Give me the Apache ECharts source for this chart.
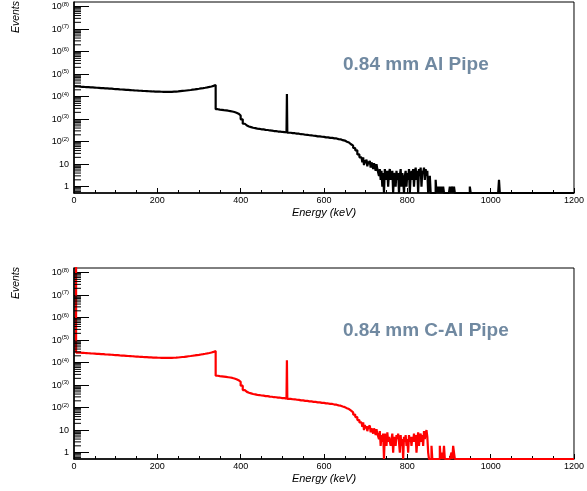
<!DOCTYPE html>
<html><head><meta charset="utf-8">
<script src="https://cdn.jsdelivr.net/npm/echarts@6/dist/echarts.min.js"></script>
<style>html,body{margin:0;padding:0;background:#fff}#c{width:587px;height:491px}</style>
</head><body><div id="c"></div>
<script>
// ---- axes ----
const xMin = 0, xMax = 1200;
const xTickStep = 200;
const Y_MIN = 0.52, Y_MAX = 1.6e8;
const panelLabels = ['0.84 mm Al Pipe', '0.84 mm C-Al Pipe'];
const xTitle = 'Energy (keV)';
const yTitle = 'Events';

// ---- binning of the data arrays (keV) ----
const lowStart = 0,    lowWidth = 5;    // 0 .. 510
const peakStart = 510, peakWidth = 1;   // 510 .. 515
const midStart = 515,  midWidth = 5;    // 515 .. 690
const tailStart = 690, tailWidth = 2;   // 690 .. 870
const sparseStart = 870, sparseWidth = 2; // 870 .. 1200 (zero except listed bins)

// ---- 0.84 mm Al Pipe (black) ----
const alLow = [
  28500, 28100, 27600, 27300, 26900, 26600, 26200, 25800, 25500, 25100,
  24700, 24400, 24000, 23700, 23300, 23000, 22700, 22400, 22000, 21700,
  21400, 21000, 20700, 20400, 20100, 19800, 19500, 19200, 18900, 18700,
  18400, 18200, 17900, 17700, 17500, 17300, 17100, 16900, 16800, 16600,
  16500, 16400, 16300, 16200, 16200, 16200, 16300, 16500, 16700, 17000,
  17400, 17800, 18200, 18700, 19200, 19700, 20300, 20900, 21600, 22300,
  23100, 23900, 24800, 25800, 26900, 28200, 30000, 33000, 2750, 2650,
  2580, 2500, 2430, 2360, 2280, 2180, 2060, 1920, 1740, 1450,
  980, 620, 520, 470, 440, 412, 398, 378, 370, 353,
  347, 333, 327, 313, 308, 295, 292, 280, 278, 268,
  266, 254
];
const alPeak = [250, 13000, 249, 248, 247];
const alMid = [
  248, 237, 236, 225, 224, 213, 212, 202, 201, 192,
  191, 182, 181, 172, 172, 164, 163, 155, 155, 147,
  147, 139, 138, 129, 126, 116, 111, 99, 91, 76,
  66, 52, 41, 27, 20
];
const alTail = [
  18, 12, 20, 9, 15, 11, 16, 8, 13, 10, 14, 7, 12, 9, 6, 11, 8, 5, 10, 6,
  7, 3, 6, 2, 5, 1, 4, 0, 6, 3, 2, 5, 1, 4, 6, 2, 3, 5, 0, 4,
  3, 1, 5, 2, 4, 0, 3, 6, 1, 4, 2, 0, 3, 5, 1, 4, 2, 6, 0, 3,
  5, 2, 6, 1, 4, 7, 2, 5, 0, 6, 3, 7, 1, 5, 4, 7, 2, 6, 3, 5,
  0, 0, 3, 0, 0, 0, 0, 0, 0, 2
];
const alSparse = [[874, 1], [878, 1], [882, 1], [886, 1], [902, 1], [908, 1], [912, 1], [950, 1], [1020, 2]];

// ---- 0.84 mm C-Al Pipe (red) ----
const cAlLow = [
  1e9, 27800, 27500, 27200, 26800, 26500, 26100, 25700, 25400, 25000,
  24600, 24300, 23900, 23600, 23200, 22900, 22600, 22300, 21900, 21600,
  21300, 20900, 20600, 20300, 20000, 19700, 19400, 19100, 18800, 18600,
  18300, 18100, 17800, 17600, 17400, 17200, 17000, 16800, 16700, 16500,
  16400, 16300, 16200, 16100, 16100, 16100, 16200, 16400, 16600, 16900,
  17300, 17700, 18100, 18600, 19100, 19600, 20200, 20800, 21500, 22200,
  23000, 23800, 24700, 25700, 26800, 28100, 29800, 32500, 2600, 2520,
  2450, 2380, 2310, 2240, 2170, 2080, 1970, 1830, 1650, 1400,
  940, 600, 500, 455, 428, 402, 389, 369, 362, 345,
  341, 325, 322, 307, 304, 290, 289, 276, 275, 263,
  263, 251
];
const cAlPeak = [247, 12800, 246, 245, 245];
const cAlMid = [
  246, 235, 234, 223, 222, 211, 210, 200, 199, 190,
  189, 180, 179, 171, 170, 162, 161, 154, 153, 146,
  145, 137, 135, 126, 122, 112, 105, 94, 86, 73,
  62, 49, 38, 28, 22
];
const cAlTail = [
  20, 14, 22, 10, 17, 12, 15, 9, 13, 11, 16, 8, 12, 10, 7, 12, 9, 6, 11, 7,
  8, 4, 9, 2, 6, 3, 7, 0, 7, 4, 2, 8, 3, 5, 6, 2, 4, 7, 1, 5,
  5, 2, 6, 4, 7, 3, 1, 6, 2, 4, 0, 5, 3, 6, 2, 4, 1, 6, 3, 5,
  2, 5, 3, 7, 3, 6, 1, 4, 8, 2, 5, 7, 3, 6, 2, 9, 4, 7, 10, 5,
  1, 0, 0, 0, 2, 0, 0, 0, 0, 0
];
const cAlSparse = [[878, 2], [884, 1], [888, 2], [906, 1], [910, 2], [912, 1]];

// ---- build ----
const FONT = '"Liberation Sans", Arial, Helvetica, sans-serif';
const panelColors = ['#000000', '#ff0000'];
const panels = [
  {top: 2, height: 191},
  {top: 268, height: 191}
];
const LEFT = 74, WIDTH = 504;

function buildPoints(low, peak, mid, tail, sparse) {
  const pts = [];
  const add = (start, width, counts) => counts.forEach((c, i) => pts.push([start + i * width, c]));
  add(lowStart, lowWidth, low);
  add(peakStart, peakWidth, peak);
  add(midStart, midWidth, mid);
  add(tailStart, tailWidth, tail);
  const spikeMap = {};
  sparse.forEach(([e, c]) => { spikeMap[e] = c; });
  for (let e = sparseStart; e < xMax; e += sparseWidth) pts.push([e, spikeMap[e] || 0]);
  pts.push([xMax, pts[pts.length - 1][1]]);
  return pts.map(([x, c]) => [x, c > 0 ? c : Y_MIN]);
}

const minorTickValues = [];
for (let n = -1; n <= 8; n++) {
  for (let k = 2; k <= 9; k++) {
    const v = k * Math.pow(10, n);
    if (v > Y_MIN && v < Y_MAX) minorTickValues.push([xMin, v]);
  }
}

const chart = echarts.init(document.getElementById('c'), null, {renderer: 'canvas'});

const grid = panels.map(p => ({
  left: LEFT, top: p.top, width: WIDTH, height: p.height,
  show: true, borderColor: '#000', borderWidth: 1, backgroundColor: 'transparent',
  containLabel: false
}));

const xAxis = panels.map((p, i) => ({
  type: 'value', gridIndex: i, min: xMin, max: xMax, interval: xTickStep,
  axisLine: {show: true, onZero: false, lineStyle: {color: '#000', width: 1.5}},
  axisTick: {show: true, inside: true, length: 5, lineStyle: {color: '#000', width: 1}},
  minorTick: {show: true, splitNumber: 4, length: 3, lineStyle: {color: '#000', width: 1}},
  axisLabel: {fontSize: 9, color: '#000', fontFamily: FONT, margin: 3, formatter: v => String(v)},
  splitLine: {show: false}
}));

const yAxis = panels.map((p, i) => ({
  type: 'log', logBase: 10, gridIndex: i, min: Y_MIN, max: Y_MAX,
  axisLine: {show: true, onZero: false, lineStyle: {color: '#000', width: 1.5}},
  axisTick: {show: true, inside: true, length: 15, lineStyle: {color: '#000', width: 1}},
  minorTick: {show: false},
  splitLine: {show: false},
  axisLabel: {
    fontSize: 9, color: '#000', fontFamily: FONT, margin: 5,
    showMinLabel: false, showMaxLabel: false,
    formatter: v => {
      const n = Math.round(Math.log10(v));
      if (n === 0) return '1';
      if (n === 1) return '10';
      return '{b|10}{s|(' + n + ')}';
    },
    rich: {
      b: {fontSize: 9, fontFamily: FONT, color: '#000'},
      s: {fontSize: 6, fontFamily: FONT, color: '#000', verticalAlign: 'top', padding: [0, 0, 5, 0]}
    }
  }
}));

const seriesData = [
  buildPoints(alLow, alPeak, alMid, alTail, alSparse),
  buildPoints(cAlLow, cAlPeak, cAlMid, cAlTail, cAlSparse)
];

const series = [];
seriesData.forEach((data, i) => {
  series.push({
    type: 'line', xAxisIndex: i, yAxisIndex: i,
    data, step: 'end', symbol: 'none', showSymbol: false,
    clip: true, silent: true,
    lineStyle: {color: panelColors[i], width: 2.2}, z: 3
  });
  series.push({
    type: 'custom', xAxisIndex: i, yAxisIndex: i, silent: true, clip: false,
    data: minorTickValues, encode: {x: 0, y: 1}, z: 4,
    renderItem: (params, api) => {
      const p = api.coord([api.value(0), api.value(1)]);
      return {type: 'line', shape: {x1: p[0], y1: p[1], x2: p[0] + 7, y2: p[1]},
              style: {stroke: '#000', lineWidth: 1}};
    }
  });
});

const graphic = [];
panels.forEach((p, i) => {
  graphic.push({
    type: 'text', x: 16, y: p.top - 1, rotation: Math.PI / 2, silent: true,
    style: {text: yTitle, fontSize: 10.5, fontStyle: 'italic', fontFamily: FONT, fill: '#000',
            align: 'right', verticalAlign: 'middle'}
  });
  graphic.push({
    type: 'text', x: LEFT + WIDTH / 2 - 2, y: p.top + p.height + 20, silent: true,
    style: {text: xTitle, fontSize: 11, fontStyle: 'italic', fontFamily: FONT, fill: '#000',
            align: 'center', verticalAlign: 'middle'}
  });
  graphic.push({
    type: 'text', x: 343, y: p.top + 63, silent: true,
    style: {text: panelLabels[i], fontSize: 19, fontWeight: 'bold', fontFamily: FONT, fill: '#7089a1',
            align: 'left', verticalAlign: 'middle'}
  });
});

chart.setOption({
  animation: false,
  backgroundColor: '#fff',
  grid, xAxis, yAxis, series, graphic
});
</script>
</body></html>
